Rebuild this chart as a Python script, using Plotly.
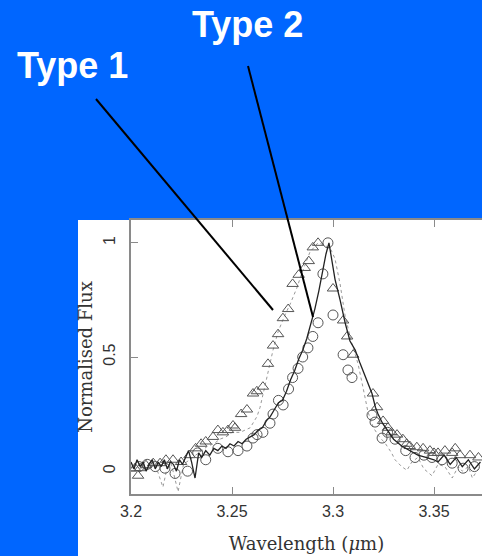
import plotly.graph_objects as go

# ---------------- data ----------------
# Type 1 observed spectrum (open triangles)
tri_x = [3.2020, 3.2035, 3.2045, 3.2074, 3.2110, 3.2144, 3.2173, 3.2208, 3.2248, 3.2290,
         3.2320, 3.2347, 3.2370, 3.2406, 3.2430, 3.2455, 3.2480, 3.2505, 3.2515, 3.2545,
         3.2574, 3.2604, 3.2623, 3.2653, 3.2678, 3.2703, 3.2728, 3.2752, 3.2778, 3.2800,
         3.2830, 3.2860, 3.2880, 3.2900, 3.2926, 3.3000, 3.3050, 3.3070, 3.3100, 3.3198,
         3.3218, 3.3248, 3.3272, 3.3290, 3.3317, 3.3346, 3.3365, 3.3380, 3.3415, 3.3446,
         3.3480, 3.3500, 3.3520, 3.3554, 3.3590, 3.3605, 3.3629, 3.3678, 3.3720]
tri_y = [0.013, -0.020, 0.013, 0.026, 0.035, 0.035, 0.050, 0.050, 0.040, 0.070,
         0.100, 0.120, 0.130, 0.150, 0.180, 0.170, 0.180, 0.200, 0.190, 0.250,
         0.270, 0.340, 0.350, 0.370, 0.470, 0.550, 0.600, 0.670, 0.710, 0.820,
         0.860, 0.890, 0.920, 0.980, 1.000, 0.800, 0.660, 0.590, 0.510, 0.340,
         0.280, 0.220, 0.190, 0.170, 0.160, 0.140, 0.120, 0.110, 0.105, 0.100,
         0.090, 0.080, 0.080, 0.090, 0.080, 0.100, 0.070, 0.070, 0.060]

# Type 2 observed spectrum (open circles)
circ_x = [3.2040, 3.2080, 3.2120, 3.2168, 3.2218, 3.2280, 3.2330, 3.2370, 3.2430, 3.2480,
          3.2530, 3.2574, 3.2604, 3.2624, 3.2653, 3.2688, 3.2703, 3.2730, 3.2753, 3.2780,
          3.2800, 3.2827, 3.2850, 3.2876, 3.2900, 3.2926, 3.2950, 3.2975, 3.3000, 3.3050,
          3.3074, 3.3094, 3.3193, 3.3208, 3.3243, 3.3270, 3.3307, 3.3360, 3.3406, 3.3450,
          3.3490, 3.3540, 3.3590, 3.3644, 3.3700]
circ_y = [0.020, 0.030, 0.020, 0.013, -0.010, 0.000, 0.080, 0.050, 0.100, 0.085,
          0.090, 0.110, 0.145, 0.160, 0.170, 0.210, 0.250, 0.310, 0.290, 0.360,
          0.410, 0.450, 0.500, 0.540, 0.590, 0.650, 0.864, 1.000, 0.684, 0.510,
          0.443, 0.410, 0.245, 0.215, 0.145, 0.170, 0.140, 0.090, 0.060, 0.070,
          0.060, 0.050, 0.035, 0.013, 0.020]

# Type 2 template (solid line)
sol_x = [3.2000, 3.2015, 3.2030, 3.2045, 3.2060, 3.2075, 3.2090, 3.2105, 3.2120, 3.2135,
         3.2150, 3.2165, 3.2180, 3.2195, 3.2210, 3.2225, 3.2240, 3.2255, 3.2270, 3.2285,
         3.2300, 3.2317, 3.2335, 3.2350, 3.2370, 3.2390, 3.2410, 3.2430, 3.2450, 3.2470,
         3.2490, 3.2510, 3.2530, 3.2550, 3.2570, 3.2590, 3.2610, 3.2630, 3.2650, 3.2670,
         3.2690, 3.2710, 3.2730, 3.2750, 3.2770, 3.2790, 3.2810, 3.2830, 3.2850, 3.2870,
         3.2890, 3.2910, 3.2930, 3.2950, 3.2965, 3.2980, 3.2995, 3.3010, 3.3035, 3.3060,
         3.3084, 3.3110, 3.3135, 3.3158, 3.3175, 3.3193, 3.3210, 3.3223, 3.3245, 3.3270,
         3.3300, 3.3340, 3.3380, 3.3420, 3.3460, 3.3500, 3.3520, 3.3550, 3.3580, 3.3610,
         3.3640, 3.3670, 3.3700, 3.3730]
sol_y = [0.040, 0.010, 0.050, 0.020, 0.040, 0.000, 0.030, 0.050, 0.010, 0.040,
         0.020, 0.050, 0.010, 0.040, 0.030, 0.000, 0.050, 0.030, 0.060, 0.090,
         0.040, -0.030, 0.080, 0.060, 0.090, 0.070, 0.100, 0.090, 0.110, 0.100,
         0.120, 0.110, 0.130, 0.120, 0.140, 0.150, 0.160, 0.180, 0.190, 0.220,
         0.240, 0.270, 0.300, 0.310, 0.350, 0.400, 0.440, 0.490, 0.530, 0.580,
         0.640, 0.710, 0.790, 0.880, 0.950, 1.000, 0.920, 0.840, 0.750, 0.650,
         0.570, 0.530, 0.470, 0.420, 0.380, 0.340, 0.280, 0.250, 0.210, 0.180,
         0.140, 0.110, 0.090, 0.070, 0.060, 0.050, 0.040, 0.070, 0.030, 0.060,
         0.020, 0.050, 0.010, 0.040]

# Type 1 template (dotted line)
dot_x = [3.2000, 3.2030, 3.2060, 3.2090, 3.2120, 3.2158, 3.2180, 3.2200, 3.2233, 3.2260,
         3.2290, 3.2320, 3.2350, 3.2380, 3.2410, 3.2440, 3.2470, 3.2500, 3.2540, 3.2590,
         3.2624, 3.2639, 3.2670, 3.2703, 3.2728, 3.2760, 3.2787, 3.2820, 3.2847, 3.2886,
         3.2926, 3.2960, 3.2990, 3.3010, 3.3035, 3.3060, 3.3090, 3.3124, 3.3150, 3.3173,
         3.3200, 3.3230, 3.3260, 3.3290, 3.3307, 3.3340, 3.3366, 3.3390, 3.3420, 3.3450,
         3.3490, 3.3520, 3.3554, 3.3590, 3.3620, 3.3640, 3.3670, 3.3690, 3.3720]
dot_y = [0.020, 0.000, 0.020, 0.010, 0.030, -0.070, 0.020, 0.030, -0.090, 0.030,
         0.050, 0.070, 0.090, 0.110, 0.120, 0.140, 0.150, 0.170, 0.170, 0.190,
         0.240, 0.280, 0.400, 0.530, 0.610, 0.680, 0.730, 0.800, 0.870, 0.960,
         1.000, 0.990, 0.970, 0.930, 0.820, 0.680, 0.570, 0.470, 0.360, 0.260,
         0.190, 0.150, 0.120, 0.080, 0.050, 0.020, 0.004, 0.040, 0.060, 0.010,
         -0.020, 0.030, 0.020, -0.030, 0.020, 0.000, 0.020, -0.030, 0.010]

x_ticks = [3.2, 3.25, 3.3, 3.35]
x_tick_text = ["3.2", "3.25", "3.3", "3.35"]
y_ticks = [0, 0.5, 1]
y_tick_text = ["0", "0.5", "1"]

# ---------------- layout geometry (pixels) ----------------
W, H = 482, 556
ML, MR, MT, MB = 131, 0, 220, 62
PW, PH = W - ML - MR, H - MT - MB


def px(xp):
    return (xp - ML) / PW


def py(yp):
    return (H - MB - yp) / PH


BLUE = "#0066ff"
AXIS = "#8a8a8a"
TXT = "#333333"

fig = go.Figure()

fig.add_trace(go.Scatter(x=dot_x, y=dot_y, mode="lines",
                         line=dict(color="#999999", width=1, dash="dot"),
                         showlegend=False, hoverinfo="skip"))
fig.add_trace(go.Scatter(x=tri_x, y=tri_y, mode="markers",
                         marker=dict(symbol="triangle-up-open", size=10, color="#555555",
                                     line=dict(width=1)),
                         showlegend=False))
fig.add_trace(go.Scatter(x=circ_x, y=circ_y, mode="markers",
                         marker=dict(symbol="circle-open", size=10, color="#555555",
                                     line=dict(width=1)),
                         showlegend=False))
fig.add_trace(go.Scatter(x=sol_x, y=sol_y, mode="lines",
                         line=dict(color="#222222", width=1.3),
                         showlegend=False))

# white inset panel behind the chart
fig.add_shape(type="rect", xref="paper", yref="paper",
              x0=px(78), x1=px(W + 5), y0=py(H + 5), y1=py(MT),
              fillcolor="white", line=dict(width=0), layer="below")

# pointer lines
fig.add_shape(type="line", xref="paper", yref="paper",
              x0=px(96), y0=py(99), x1=px(273), y1=py(310),
              line=dict(color="black", width=2))
fig.add_shape(type="line", xref="paper", yref="paper",
              x0=px(248), y0=py(66), x1=px(313), y1=py(317),
              line=dict(color="black", width=2))

fig.add_annotation(text="<b>Type 1</b>", xref="paper", yref="paper",
                   x=px(72.5), y=py(66), xanchor="center", yanchor="middle",
                   showarrow=False,
                   font=dict(family="Liberation Sans, Arial", size=36, color="white"))
fig.add_annotation(text="<b>Type 2</b>", xref="paper", yref="paper",
                   x=px(247), y=py(25), xanchor="center", yanchor="middle",
                   showarrow=False,
                   font=dict(family="Liberation Sans, Arial", size=36, color="white"))

fig.update_layout(
    width=W, height=H,
    margin=dict(l=ML, r=MR, t=MT, b=MB, pad=0),
    paper_bgcolor=BLUE, plot_bgcolor="white",
    xaxis=dict(range=[3.2, 3.2 + PW / 2020.0], tickvals=x_ticks, ticktext=x_tick_text,
               ticks="inside", ticklen=7, tickwidth=1.3, tickcolor=AXIS,
               showline=True, linecolor=AXIS, linewidth=1.5, mirror="ticks",
               showgrid=False, zeroline=False, ticklabelstandoff=2,
               tickfont=dict(family="Liberation Sans, Arial", size=16, color=TXT),
               title=dict(text="Wavelength (<i>μ</i>m)", standoff=18,
                          font=dict(family="DejaVu Serif", size=18, color=TXT))),
    yaxis=dict(range=[-0.1, 1.1], tickvals=y_ticks, ticktext=y_tick_text,
               ticks="inside", ticklen=7, tickwidth=1.3, tickcolor=AXIS,
               showline=True, linecolor=AXIS, linewidth=1.5,
               showgrid=False, zeroline=False, tickangle=-90, ticklabelstandoff=8,
               tickfont=dict(family="Liberation Sans, Arial", size=16, color=TXT),
               title=dict(text="Normalised Flux", standoff=4,
                          font=dict(family="DejaVu Serif", size=18, color=TXT))),
)

fig.write_html("out.html")
